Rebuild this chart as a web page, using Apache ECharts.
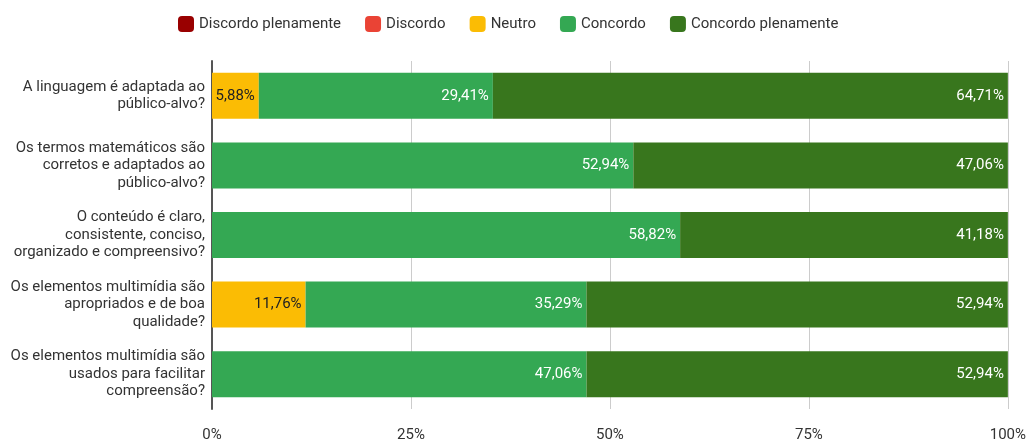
<!DOCTYPE html>
<html><head><meta charset="utf-8">
<script src="https://cdn.jsdelivr.net/npm/echarts@6/dist/echarts.min.js"></script>
<style>html,body{margin:0;padding:0;background:#fff}#c{width:1029px;height:443px}</style>
</head><body><div id="c"></div>
<script>
const categories = [
  "A linguagem é adaptada ao\npúblico-alvo?",
  "Os termos matemáticos são\ncorretos e adaptados ao\npúblico-alvo?",
  "O conteúdo é claro,\nconsistente, conciso,\norganizado e compreensivo?",
  "Os elementos multimídia são\napropriados e de boa\nqualidade?",
  "Os elementos multimídia são\nusados para facilitar\ncompreensão?"
];
const seriesNames = ["Discordo plenamente", "Discordo", "Neutro", "Concordo", "Concordo plenamente"];
const discordoPlenamente = [0, 0, 0, 0, 0];
const discordo = [0, 0, 0, 0, 0];
const neutro = [5.88, 0, 0, 11.76, 0];
const concordo = [29.41, 52.94, 58.82, 35.29, 47.06];
const concordoPlenamente = [64.71, 47.06, 41.18, 52.94, 52.94];
const tickLabels = ["0%", "25%", "50%", "75%", "100%"];

const colors = ["#990000", "#ea4335", "#fbbc04", "#34a853", "#38761d"];
const labelColors = ["#fff", "#fff", "#222", "#fff", "#fff"];
const allData = [discordoPlenamente, discordo, neutro, concordo, concordoPlenamente];

const chart = echarts.init(document.getElementById('c'));
chart.setOption({
  animation: false,
  textStyle: { fontFamily: 'Roboto, Arial, sans-serif' },
  legend: {
    top: 11, left: 173,
    itemWidth: 16, itemHeight: 16, itemGap: 24,
    icon: 'roundRect',
    textStyle: { fontSize: 15, color: '#333' },
    data: seriesNames
  },
  grid: { left: 212, right: 21, top: 61, bottom: 31 },
  xAxis: {
    type: 'value', min: 0, max: 100, interval: 25,
    axisLabel: { fontSize: 15, color: '#333', margin: 19,
      formatter: v => tickLabels[Math.round(v / 25)] },
    splitLine: { lineStyle: { color: '#cccccc' } },
    axisLine: { show: false }, axisTick: { show: false }
  },
  yAxis: {
    type: 'category', inverse: true, data: categories,
    axisLabel: { fontSize: 15, color: '#333', lineHeight: 17.5, margin: 7, align: 'right' },
    axisLine: { lineStyle: { color: '#555', width: 2 } },
    axisTick: { show: false }
  },
  series: seriesNames.map((n, i) => ({
    name: n, type: 'bar', stack: 'total',
    barWidth: 46,
    itemStyle: { color: colors[i] },
    label: {
      show: true, position: 'insideRight', distance: 4,
      color: labelColors[i], fontSize: 15,
      formatter: p => p.value > 0 ? p.value.toFixed(2).replace('.', ',') + '%' : ''
    },
    data: allData[i]
  }))
});
</script></body></html>
